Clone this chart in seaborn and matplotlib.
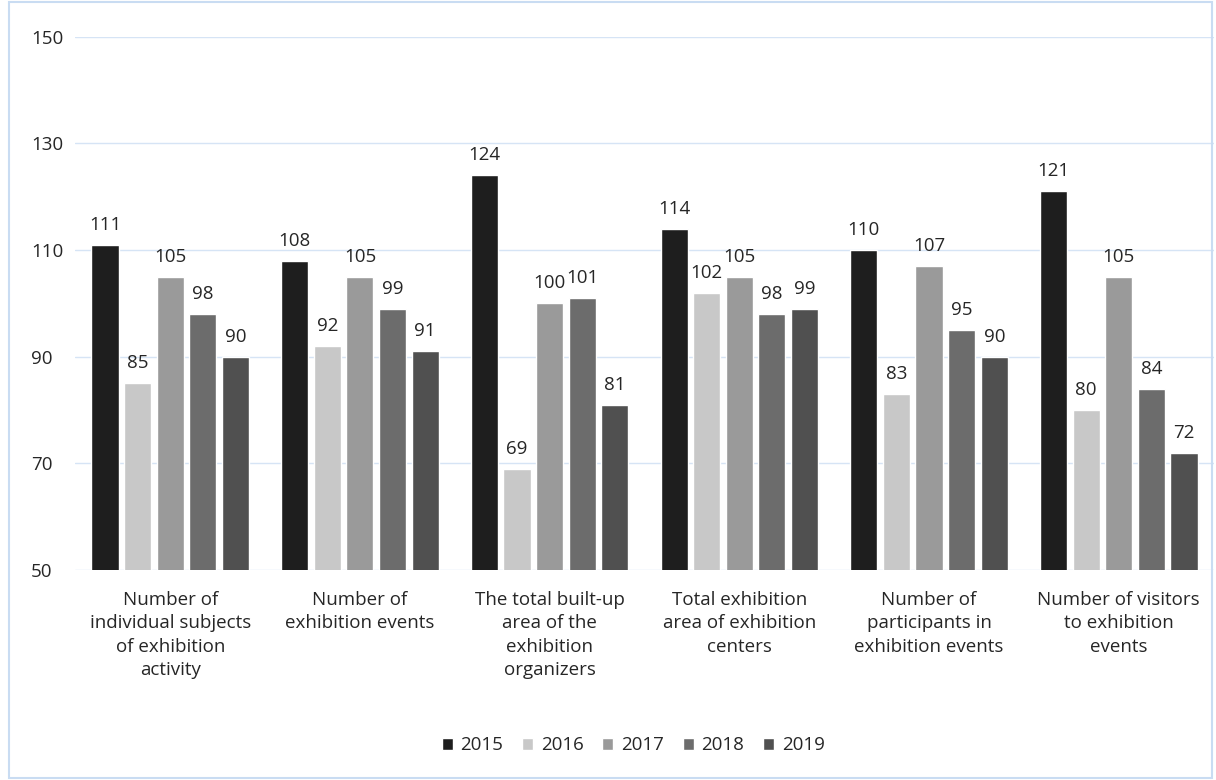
import matplotlib
matplotlib.use("Agg")
import matplotlib.pyplot as plt
import seaborn as sns
import pandas as pd
from matplotlib.patches import Rectangle

# data
categories = [
    "Number of\nindividual subjects\nof exhibition\nactivity",
    "Number of\nexhibition events",
    "The total built-up\narea of the\nexhibition\norganizers",
    "Total exhibition\narea of exhibition\ncenters",
    "Number of\nparticipants in\nexhibition events",
    "Number of visitors\nto exhibition\nevents",
]
years = ["2015", "2016", "2017", "2018", "2019"]
v2015 = [111, 108, 124, 114, 110, 121]
v2016 = [85, 92, 69, 102, 83, 80]
v2017 = [105, 105, 100, 105, 107, 105]
v2018 = [98, 99, 101, 98, 95, 84]
v2019 = [90, 91, 81, 99, 90, 72]
colors = ["#1e1e1e", "#c8c8c8", "#9a9a9a", "#6c6c6c", "#505050"]

rows = []
for yr, vals in zip(years, [v2015, v2016, v2017, v2018, v2019]):
    for cat, v in zip(categories, vals):
        rows.append({"Category": cat, "Year": yr, "Value": v})
df = pd.DataFrame(rows)

sns.set_style("white")
plt.rcParams["font.family"] = ["Open Sans", "DejaVu Sans"]

fig = plt.figure(figsize=(12.16, 7.8), dpi=100)
ax = fig.add_axes([0.062, 0.269, 0.936, 0.684])

sns.barplot(data=df, x="Category", y="Value", hue="Year", palette=colors,
            width=0.86, gap=0.17, ax=ax, legend=True, saturation=1)

ax.set_ylim(50, 150)
ax.set_yticks([50, 70, 90, 110, 130, 150])
ax.yaxis.grid(True, color="#d6e4f5", linewidth=1)
ax.set_axisbelow(True)
for s in ax.spines.values():
    s.set_visible(False)
ax.set_xlabel("")
ax.set_ylabel("")
ax.tick_params(axis="y", labelsize=13.5, length=0, pad=32)
ax.tick_params(axis="x", labelsize=13.5, length=0, pad=15)
for lbl in ax.get_yticklabels():
    lbl.set_horizontalalignment("left")
for lbl in ax.get_xticklabels():
    lbl.set_linespacing(1.38)
ax.set_xlim(-0.5, len(categories) - 0.5)

# value labels
for cont in ax.containers:
    ax.bar_label(cont, fmt="%d", padding=8, fontsize=13.5)

leg = ax.legend(loc="upper center", bbox_to_anchor=(0.49, -0.28), ncol=5,
                frameon=False, fontsize=13.5, handlelength=0.6, handleheight=0.6,
                columnspacing=1.0, handletextpad=0.4)

# chart border
fig.patches.append(Rectangle((0.007, 0.002), 0.99, 0.995, transform=fig.transFigure,
                             fill=False, edgecolor="#c9dcf2", linewidth=1.5))

plt.savefig("out.png", dpi=100)
plt.close(fig)
